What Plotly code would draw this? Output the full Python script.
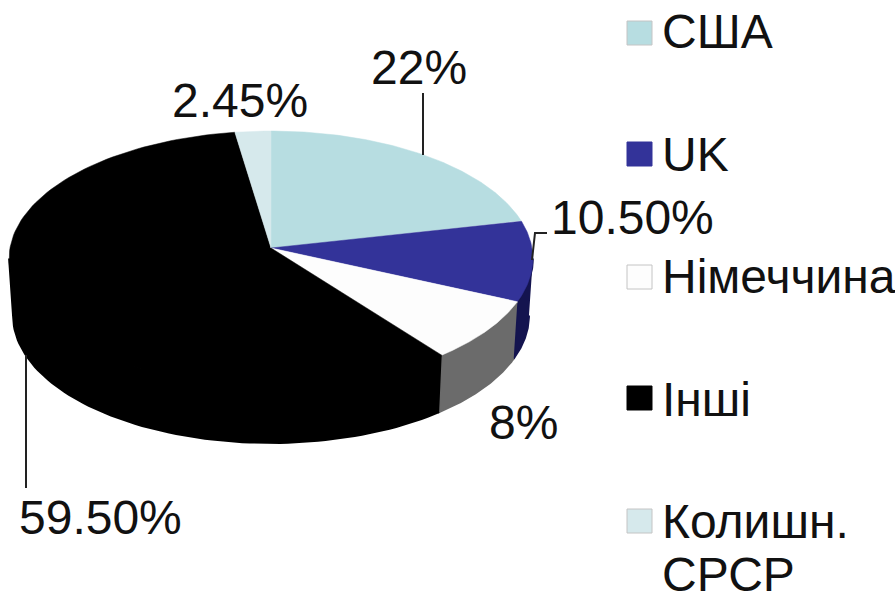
import numpy as np
import plotly.graph_objects as go

categories = ["США", "UK", "Німеччина", "Інші", "Колишн.<br>СРСР"]
values = [22, 10.5, 8, 59.5, 2.45]
labels = ["22%", "10.50%", "8%", "59.50%", "2.45%"]
top_colors = ["#b7dde1", "#333399", "#fdfdfd", "#000000", "#d6e9ec"]
side_colors = ["#8aa6a9", "#14144f", "#6b6b6b", "#000000", "#a0afb1"]

# projection of the tilted disc into page pixels
CX, CY, RX, SY, K, DEPTH, SHRINK = 271, 248, 261, 126.6, 0.0824, 57, 0.985
FONT = "Liberation Sans, Arial, sans-serif"
FS = 48


def top(theta):
    w = 1 + K * np.cos(theta)
    return CX + RX * np.sin(theta) / w, CY - SY * np.cos(theta) / w


def bottom(theta):
    x, y = top(theta)
    return CX + (x - CX) * SHRINK, y + DEPTH


total = sum(values)
edges = np.concatenate([[0], np.cumsum(values)]) / total * 2 * np.pi
vis_a, vis_b = np.arccos(-K), 2 * np.pi - np.arccos(-K)

fig = go.Figure()

# side walls
for i, name in enumerate(categories):
    a, b = max(edges[i], vis_a), min(edges[i + 1], vis_b)
    if b <= a:
        continue
    t = np.linspace(a, b, 80)
    xt, yt = top(t)
    xb, yb = bottom(t[::-1])
    fig.add_trace(go.Scatter(x=np.r_[xt, xb], y=np.r_[yt, yb], mode="lines", fill="toself",
                             fillcolor=side_colors[i], line=dict(color=side_colors[i], width=2),
                             hoverinfo="skip", showlegend=False))

# top faces
for i, name in enumerate(categories):
    t = np.linspace(edges[i], edges[i + 1], 120)
    xt, yt = top(t)
    fig.add_trace(go.Scatter(x=np.r_[CX, xt, CX], y=np.r_[CY, yt, CY], mode="lines", fill="toself",
                             fillcolor=top_colors[i], line=dict(color=top_colors[i], width=0.5),
                             name=name.replace("<br>", " "), text=labels[i], hoverinfo="name+text",
                             showlegend=False))

# leader lines
leaders = [([423, 423], [93, 155]), ([532, 535, 547], [260, 233, 233]), ([26, 26], [355, 488])]
for lx, ly in leaders:
    fig.add_trace(go.Scatter(x=lx, y=ly, mode="lines", line=dict(color="#222222", width=2),
                             hoverinfo="skip", showlegend=False))

# data labels
label_pos = [(419, 67), (632, 217), (523, 422), (100, 517), (240, 100)]
ann = [dict(x=p[0], y=p[1], text=labels[i], showarrow=False, xanchor="center", yanchor="middle",
            font=dict(family=FONT, size=FS, color="#111111")) for i, p in enumerate(label_pos)]

# legend
leg_y = [33, 154, 277, 398, 521]
shapes = []
for i, yc in enumerate(leg_y):
    shapes.append(dict(type="rect", x0=627, x1=652, y0=yc - 12, y1=yc + 12, fillcolor=top_colors[i],
                       line=dict(color="#c4c4c4" if i in (0, 2, 4) else top_colors[i], width=1)))
leg_text_y = [[31], [154], [276], [399], [521, 574]]
for cat, ys in zip(categories, leg_text_y):
    for line_text, y in zip(cat.split("<br>"), ys):
        ann.append(dict(x=660, y=y, text=line_text, showarrow=False, xanchor="left", yanchor="middle",
                        font=dict(family=FONT, size=FS, color="#111111")))

fig.update_layout(
    width=895, height=592, margin=dict(l=0, r=0, t=0, b=0),
    paper_bgcolor="white", plot_bgcolor="white", showlegend=False,
    xaxis=dict(range=[0, 895], visible=False, fixedrange=True),
    yaxis=dict(range=[592, 0], visible=False, fixedrange=True),
    annotations=ann, shapes=shapes,
)
fig.write_html("out.html", config=dict(displayModeBar=False),
               post_script="document.body.style.margin='0';document.documentElement.style.overflow='hidden';")
